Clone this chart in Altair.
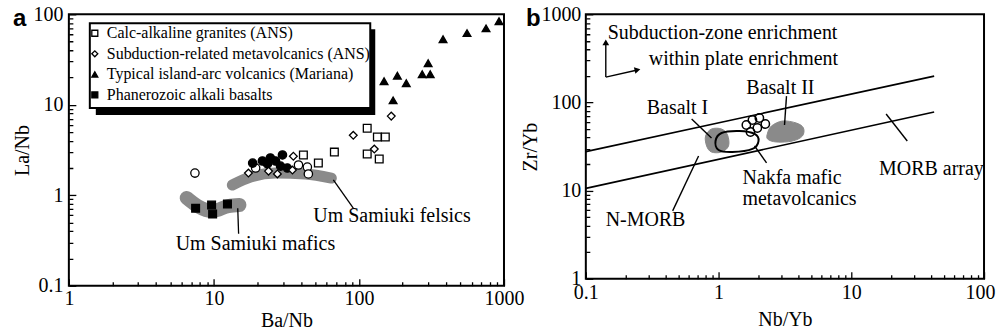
import altair as alt
import pandas as pd

FONT = "Liberation Serif"

# ---------------- Panel a : La/Nb vs Ba/Nb ----------------
legend_groups = ["Calc-alkaline granites (ANS)",
                 "Subduction-related metavolcanics (ANS)",
                 "Typical island-arc volcanics (Mariana)",
                 "Phanerozoic alkali basalts"]
legend_shapes = ["square", "diamond", "triangle-up", "square"]
legend_fills = ["white", "white", "black", "black"]

granite_ba = [114, 134, 152, 67.7, 114, 138, 41.4, 52.5]
granite_la = [5.5, 4.4, 4.4, 3.0, 2.86, 2.52, 2.79, 2.27]
metavolc_ba = [167, 91.4, 127.6, 35.3, 17.3, 23.8, 27.4, 34.8]
metavolc_la = [7.5, 4.6, 3.24, 2.7, 1.76, 1.85, 1.72, 1.9]
mariana_ba = [380, 556, 752, 924, 149, 184, 212, 273, 310, 300, 172]
mariana_la = [53, 62, 70, 84, 18.2, 21, 17.3, 21.8, 21.8, 28.8, 11.2]
alkali_ba = [7.48, 9.64, 9.8, 12.4]
alkali_la = [0.72, 0.78, 0.62, 0.80]

samiuki_open_ba = [7.4, 19.4, 38.3, 44.1, 44.8]
samiuki_open_la = [1.76, 2.0, 2.16, 2.05, 1.72]
samiuki_fill_ba = [18.5, 24.5, 29.7, 23.4, 26.6, 28.8, 32.1, 21.6]
samiuki_fill_la = [2.27, 2.58, 2.79, 2.22, 2.39, 2.1, 2.0, 2.39]

felsic_ba = [13.4, 17.9, 26.6, 42.7, 64.5]
felsic_la = [1.30, 1.59, 1.76, 1.72, 1.55]
mafic_ba = [6.49, 7.72, 9.8, 12.6, 15.0]
mafic_la = [0.935, 0.76, 0.67, 0.76, 0.78]

a_labels = ["Um Samiuki felsics", "Um Samiuki mafics"]
a_label_ba = [48.5, 5.45]
a_label_la = [0.59, 0.29]
a_lead_ba = [66.6, 14.6]
a_lead_la = [1.48, 0.72]
a_lead_ba2 = [91.4, 14.8]
a_lead_la2 = [0.72, 0.375]

a_xticks = [1, 2, 3, 4, 5, 6, 7, 8, 9, 10, 20, 30, 40, 50, 60, 70, 80, 90,
            100, 200, 300, 400, 500, 600, 700, 800, 900, 1000]
a_xmajor = [1, 10, 100, 1000]
a_yticks = [0.1, 0.2, 0.3, 0.4, 0.5, 0.6, 0.7, 0.8, 0.9, 1, 2, 3, 4, 5, 6, 7, 8, 9,
            10, 20, 30, 40, 50, 60, 70, 80, 90, 100]
a_ymajor = [0.1, 1, 10, 100]

# ---------------- Panel b : Zr/Yb vs Nb/Yb ----------------
morb_nb = [0.1, 42.1]
morb_upper = [27.7, 199]
morb_lower = [10.6, 77.9]

nakfa_nb = [1.62, 1.80, 2.03, 2.25, 1.96, 1.74]
nakfa_zr = [55.5, 63.2, 66.6, 57.0, 51.3, 46.2]

basalt1_nb = [0.885, 1.053, 1.169, 1.189, 1.053, 0.885, 0.813, 0.798]
basalt1_zr = [50, 50, 42.7, 32.1, 27.4, 27.4, 32.1, 41.6]
basalt2_nb = [2.50, 3.03, 3.86, 4.36, 4.28, 3.60, 2.73, 2.34, 2.34]
basalt2_zr = [54.0, 61.6, 58.4, 51.3, 41.6, 36.5, 35.6, 38.5, 45.0]
nakfa_env_nb = [0.949, 1.053, 1.44, 1.87, 2.0, 1.80, 1.27, 1.0]
nakfa_env_zr = [36.5, 45.0, 47.4, 43.9, 36.5, 29.7, 27.4, 28.9]

b_labels = ["Subduction-zone enrichment", "within plate enrichment", "Basalt II",
            "Basalt I", "Nakfa mafic", "metavolcanics", "N-MORB", "MORB array"]
b_label_nb = [0.146, 0.298, 1.62, 0.288, 1.515, 1.515, 0.141, 16.2]
b_label_zr = [611, 310, 145.6, 86.4, 13.9, 8.05, 4.66, 17.6]

b_lead_nb = [0.627, 3.25, 1.866, 0.707, 18.3, 0.1414, 0.1414]
b_lead_zr = [64.9, 118, 32.1, 24.7, 73.9, 194, 194]
b_lead_nb2 = [0.885, 3.14, 2.30, 0.451, 26.4, 0.1414, 0.24]
b_lead_zr2 = [39.5, 55.5, 20.6, 5.89, 36.5, 465, 232]

arrow_nb = [0.1414, 0.245]
arrow_zr = [480, 234]
arrow_shape = ["triangle-up", "triangle-right"]
arrow_angle = [0, 347]

b_xticks = [0.1, 0.2, 0.3, 0.4, 0.5, 0.6, 0.7, 0.8, 0.9, 1, 2, 3, 4, 5, 6, 7, 8, 9,
            10, 20, 30, 40, 50, 60, 70, 80, 90, 100]
b_xmajor = [0.1, 1, 10, 100]
b_yticks = [1, 2, 3, 4, 5, 6, 7, 8, 9, 10, 20, 30, 40, 50, 60, 70, 80, 90,
            100, 200, 300, 400, 500, 600, 700, 800, 900, 1000]
b_ymajor = [1, 10, 100, 1000]

GRAY = "#8a8a8a"


def log_axis(values, major, title, orient, label_pad, title_pad, last_right=None):
    arr = "[" + ",".join(repr(v) for v in major) + "]"
    test = "indexof(" + arr + ", datum.value) >= 0"
    extra = {}
    if last_right is not None:
        t2 = "datum.value == " + repr(last_right)
        extra["labelAlign"] = {"condition": {"test": t2, "value": "right"}, "value": "center"}
        extra["labelOffset"] = {"condition": {"test": t2, "value": 11}, "value": 0}
    return alt.Axis(
        values=values, format="~g",
        labelExpr=test + " ? datum.label : ''",
        title=title, orient=orient, grid=False, domain=False,
        offset=-7, tickSize=7, tickWidth=1.3, tickColor="black",
        tickDash={"condition": {"test": test, "value": [7, 0]}, "value": [0, 3, 4, 0]},
        labelFont=FONT, labelFontSize=20, labelColor="black", labelPadding=label_pad,
        titleFont=FONT, titleFontSize=20, titleFontWeight="normal", titleColor="black",
        titlePadding=title_pad, labelFlush=False, labelOverlap=False,
        **extra,
    )


one = pd.DataFrame({"k": [0]})


def panel_letter(letter, dx):
    return alt.Chart(one).mark_text(
        align="left", baseline="middle", font="Liberation Sans", fontSize=24,
        fontWeight="bold", color="black"
    ).encode(x=alt.value(dx), y=alt.value(5), text=alt.value(letter))


# ---------- build panel a ----------
ax_x = log_axis(a_xticks, a_xmajor, "Ba/Nb", "bottom", 3, 2)
ax_y = log_axis(a_yticks, a_ymajor, "La/Nb", "left", 6, 0)
sx_a = alt.Scale(type="log", domain=[1, 1000], nice=False)
sy_a = alt.Scale(type="log", domain=[0.1, 100], nice=False)
XA = alt.X("x:Q", scale=sx_a, axis=ax_x)
YA = alt.Y("y:Q", scale=sy_a, axis=ax_y)

felsic_df = pd.DataFrame({"x": felsic_ba, "y": felsic_la, "o": list(range(len(felsic_ba)))})
mafic_df = pd.DataFrame({"x": mafic_ba, "y": mafic_la, "o": list(range(len(mafic_ba)))})
felsic_layer = alt.Chart(felsic_df).mark_line(
    color=GRAY, strokeWidth=11, strokeCap="round", strokeJoin="round", interpolate="monotone"
).encode(x=XA, y=YA, order="o:Q")
mafic_layer = alt.Chart(mafic_df).mark_line(
    color=GRAY, strokeWidth=14, strokeCap="round", strokeJoin="round", interpolate="monotone"
).encode(x=XA, y=YA, order="o:Q")

pts = pd.DataFrame({
    "x": granite_ba + metavolc_ba + mariana_ba + alkali_ba,
    "y": granite_la + metavolc_la + mariana_la + alkali_la,
    "group": [legend_groups[0]] * len(granite_ba) + [legend_groups[1]] * len(metavolc_ba)
    + [legend_groups[2]] * len(mariana_ba) + [legend_groups[3]] * len(alkali_ba),
})
leg = alt.Legend(title=None, orient="none", legendX=18, legendY=11, padding=0,
                 labelFont=FONT, labelFontSize=16, labelColor="black", labelOffset=4,
                 symbolSize=36, symbolStrokeColor="black", symbolStrokeWidth=1.3,
                 rowPadding=4.6, labelLimit=400)
points_layer = alt.Chart(pts).mark_point(filled=True, stroke="black", strokeWidth=1.3, size=60, opacity=1).encode(
    x=XA, y=YA,
    shape=alt.Shape("group:N", scale=alt.Scale(domain=legend_groups, range=legend_shapes), legend=leg),
    fill=alt.Fill("group:N", scale=alt.Scale(domain=legend_groups, range=legend_fills), legend=leg),
)

sam = pd.DataFrame({"x": samiuki_open_ba + samiuki_fill_ba,
                    "y": samiuki_open_la + samiuki_fill_la,
                    "f": ["white"] * len(samiuki_open_ba) + ["black"] * len(samiuki_fill_ba)})
sam_layer = alt.Chart(sam).mark_point(shape="circle", filled=True, stroke="black", strokeWidth=1.3,
                                      size=70, opacity=1).encode(
    x=XA, y=YA, fill=alt.Fill("f:N", scale=None))

alead = pd.DataFrame({"x": a_lead_ba, "y": a_lead_la, "x2": a_lead_ba2, "y2": a_lead_la2})
alead_layer = alt.Chart(alead).mark_rule(color="black", strokeWidth=1.3).encode(
    x=XA, y=YA, x2="x2:Q", y2="y2:Q")
atext = pd.DataFrame({"x": a_label_ba, "y": a_label_la, "t": a_labels})
atext_layer = alt.Chart(atext).mark_text(align="left", baseline="middle", font=FONT, fontSize=20,
                                         color="black").encode(x=XA, y=YA, text="t:N")

shadow = alt.Chart(one).mark_rect(color="black").encode(
    x=alt.value(27), x2=alt.value(307), y=alt.value(15), y2=alt.value(101))
box = alt.Chart(one).mark_rect(fill="white", stroke="black", strokeWidth=2).encode(
    x=alt.value(21), x2=alt.value(302), y=alt.value(9), y2=alt.value(94))

panel_a = alt.layer(
    felsic_layer, mafic_layer, alead_layer, atext_layer, sam_layer, points_layer, shadow, box,
    panel_letter("a", -56)
).properties(width=436, height=272)

# ---------- build panel b ----------
bx_x = log_axis(b_xticks, b_xmajor, "Nb/Yb", "bottom", 4, 7, last_right=100)
bx_y = log_axis(b_yticks, b_ymajor, "Zr/Yb", "left", 5, 0)
sx_b = alt.Scale(type="log", domain=[0.1, 100], nice=False)
sy_b = alt.Scale(type="log", domain=[1, 1000], nice=False)
XB = alt.X("x:Q", scale=sx_b, axis=bx_x)
YB = alt.Y("y:Q", scale=sy_b, axis=bx_y)

morb = pd.DataFrame({"x": [morb_nb[0], morb_nb[0]], "y": [morb_upper[0], morb_lower[0]],
                     "x2": [morb_nb[1], morb_nb[1]], "y2": [morb_upper[1], morb_lower[1]]})
morb_layer = alt.Chart(morb).mark_rule(color="black", strokeWidth=1.6).encode(
    x=XB, y=YB, x2="x2:Q", y2="y2:Q")

fields = pd.DataFrame({
    "x": basalt1_nb + basalt2_nb, "y": basalt1_zr + basalt2_zr,
    "f": ["Basalt I"] * len(basalt1_nb) + ["Basalt II"] * len(basalt2_nb),
    "o": list(range(len(basalt1_nb))) + list(range(len(basalt2_nb)))})
fields_layer = alt.Chart(fields).mark_line(
    fill=GRAY, stroke=GRAY, strokeWidth=1, interpolate="cardinal-closed"
).encode(x=XB, y=YB, detail="f:N", order="o:Q")

env = pd.DataFrame({"x": nakfa_env_nb, "y": nakfa_env_zr, "o": list(range(len(nakfa_env_nb)))})
env_layer = alt.Chart(env).mark_line(
    stroke="black", strokeWidth=2, interpolate="cardinal-closed"
).encode(x=XB, y=YB, order="o:Q")

nak = pd.DataFrame({"x": nakfa_nb, "y": nakfa_zr})
nak_layer = alt.Chart(nak).mark_point(shape="circle", filled=False, stroke="black",
                                      strokeWidth=1.5, size=70, opacity=1).encode(x=XB, y=YB)

blead = pd.DataFrame({"x": b_lead_nb, "y": b_lead_zr, "x2": b_lead_nb2, "y2": b_lead_zr2})
blead_layer = alt.Chart(blead).mark_rule(color="black", strokeWidth=1.4).encode(
    x=XB, y=YB, x2="x2:Q", y2="y2:Q")

arrows = pd.DataFrame({"x": arrow_nb, "y": arrow_zr, "s": arrow_shape, "a": arrow_angle})
arrow_layer = alt.Chart(arrows).mark_point(filled=True, color="black", size=45, opacity=1).encode(
    x=XB, y=YB, shape=alt.Shape("s:N", scale=None), angle=alt.Angle("a:Q", scale=None))

btext = pd.DataFrame({"x": b_label_nb, "y": b_label_zr, "t": b_labels})
btext_layer = alt.Chart(btext).mark_text(align="left", baseline="middle", font=FONT, fontSize=20,
                                         color="black").encode(x=XB, y=YB, text="t:N")

panel_b = alt.layer(
    morb_layer, fields_layer, env_layer, nak_layer, blead_layer, arrow_layer, btext_layer,
    panel_letter("b", -60)
).properties(width=399, height=265)

chart = alt.hconcat(panel_a, panel_b, spacing=82, bounds="flush").configure_view(
    stroke="black", strokeWidth=2
).configure_axis(
    labelFont=FONT, titleFont=FONT
).configure_legend(
    labelFont=FONT, labelFontSize=16
).properties(
    padding={"left": 12, "top": 3, "right": 0, "bottom": 0},
    background="white",
)

chart.save("out.html", embed_options={"renderer": "svg", "actions": False})
